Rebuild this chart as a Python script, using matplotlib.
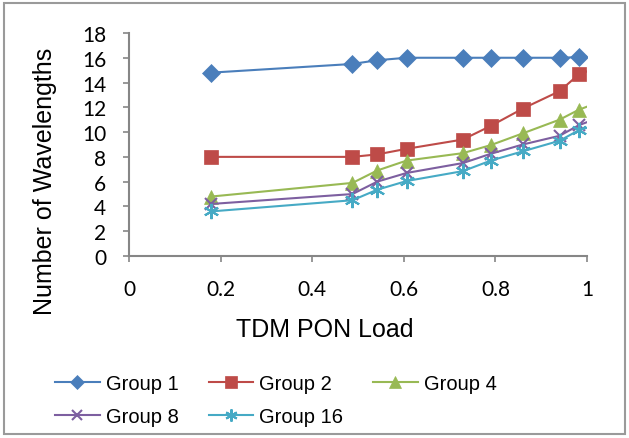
import numpy as np
import matplotlib.pyplot as plt
from matplotlib.patches import Rectangle

# TDM PON load (last point lies past 1 and is clipped by the axis, as in the source)
load = [0.18, 0.488, 0.542, 0.606, 0.729, 0.790, 0.860, 0.940, 0.982, 1.05]

group1 = [14.8, 15.5, 15.8, 16.0, 16.0, 16.0, 16.0, 16.0, 16.05, 16.2]
group2 = [8.0, 8.0, 8.2, 8.65, 9.4, 10.5, 11.9, 13.3, 14.65, 15.6]
group4 = [4.8, 5.9, 6.9, 7.7, 8.3, 8.95, 9.9, 11.0, 11.8, 12.75]
group8 = [4.2, 5.0, 6.0, 6.7, 7.5, 8.25, 9.0, 9.7, 10.55, 11.5]
group16 = [3.6, 4.5, 5.35, 6.05, 6.85, 7.7, 8.45, 9.3, 10.15, 10.9]

names = ["Group 1", "Group 2", "Group 4", "Group 8", "Group 16"]
colors = ["#4A7EBB", "#BE4B48", "#98B954", "#7D5FA0", "#46AAC5"]
markers = ["D", "s", "^", "x", (6, 2, 0)]
sizes = [9.5, 10.5, 10, 9, 11]

fig = plt.figure(figsize=(6.29, 4.39), dpi=100)
ax = fig.add_axes([0.2051, 0.4146, 0.7281, 0.508])

series = [group1, group2, group4, group8, group16]
lines = []
for ys, name, c, m, s in zip(series, names, colors, markers, sizes):
    thin = m == "x" or isinstance(m, tuple)
    ln, = ax.plot(load, ys, color=c, lw=1.5, marker=m, markersize=s,
                  markeredgewidth=1.5 if thin else 0.5,
                  markeredgecolor=c, label=name)
    lines.append(ln)

ax.set_xlim(0, 1)
ax.set_ylim(0, 18)
ax.set_xticks(np.arange(0, 1.01, 0.2))
ax.set_xticklabels(["0", "0.2", "0.4", "0.6", "0.8", "1"])
ax.set_yticks(np.arange(0, 19, 2))

for side in ("top", "right"):
    ax.spines[side].set_visible(False)
for side in ("left", "bottom"):
    ax.spines[side].set_color("#868686")
    ax.spines[side].set_linewidth(1.5)
ax.tick_params(colors="#868686", length=4.5, width=1.2, labelcolor="black",
               labelsize=15, pad=12)
for lab in ax.get_xticklabels() + ax.get_yticklabels():
    lab.set_family("Lato")

ax.set_xlabel("TDM PON Load", fontsize=18, family="Liberation Sans")
ax.set_ylabel("Number of Wavelengths", fontsize=18, family="Liberation Sans")
ax.xaxis.set_label_coords(0.427, -0.327)
ax.xaxis.label.set_va("center")
ax.yaxis.set_label_coords(-0.183, 0.34)
ax.yaxis.label.set_va("center")

# row-wise legend order like the original
order = [0, 3, 1, 4, 2]
leg = fig.legend([lines[i] for i in order], [names[i] for i in order],
                 ncol=3, loc="upper left", bbox_to_anchor=(0.075, 0.163),
                 frameon=False, handlelength=2.2, columnspacing=1.5,
                 handletextpad=0.3, labelspacing=0.65, borderaxespad=0,
                 prop={"family": "Liberation Sans", "size": 14.5})
for h in leg.legend_handles:
    h.set_markersize(h.get_markersize() * 0.8)

fig.patches.append(Rectangle((0.006, 0.009), 0.988, 0.982, transform=fig.transFigure,
                             fill=False, edgecolor="#9a9a9a", lw=1.5))

fig.savefig("out.png", dpi=100)
